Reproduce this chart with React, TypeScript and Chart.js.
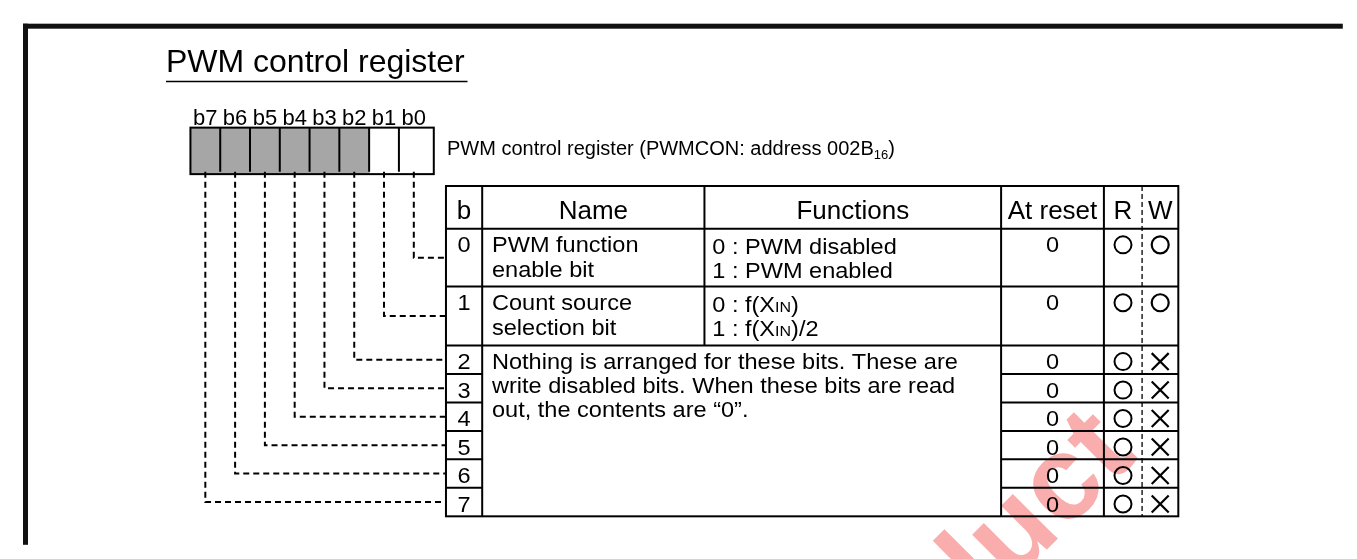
import React, { useEffect, useRef } from 'react';
import { Chart, registerables } from 'chart.js';

Chart.register(...registerables);

// ---------- content (data) ----------
const TITLE = 'PWM control register';
const REGISTER_CAPTION = 'PWM control register (PWMCON: address 002B[16])';
const BIT_LABELS = ['b7', 'b6', 'b5', 'b4', 'b3', 'b2', 'b1', 'b0'];
const BIT_ROWS = [0, 1, 2, 3, 4, 5, 6, 7];
const BIT_UNUSED = [false, false, true, true, true, true, true, true]; // by bit number
const HEADERS = ['b', 'Name', 'Functions', 'At reset', 'R', 'W'];
const NAMES = [
  ['PWM function', 'enable bit'],
  ['Count source', 'selection bit'],
];
const FUNCTIONS = [
  ['0 : PWM disabled', '1 : PWM enabled'],
  ['0 : f(X{IN})', '1 : f(X{IN})/2'],
];
const UNUSED_NOTE = [
  'Nothing is arranged for these bits. These are',
  'write disabled bits. When these bits are read',
  'out, the contents are “0”.',
];
const RESET_VALUES = ['0', '0', '0', '0', '0', '0', '0', '0'];
const READ_ACCESS = ['O', 'O', 'O', 'O', 'O', 'O', 'O', 'O'];
const WRITE_ACCESS = ['O', 'O', 'X', 'X', 'X', 'X', 'X', 'X'];
const WATERMARK = 'Product';

// ---------- layout (positions / sizes / styles) ----------
const W = 1357;
const H = 559;
const FONT = '"Liberation Sans", Arial, Helvetica, sans-serif';
const REG = { x: 180, y: 119.5, cellW: 30.42, h: 46.5, labelY: 117, labelSize: 22 };
const COLS = [441, 478, 705, 1008, 1113, 1152, 1189];
const TABLE_TOP = 181;
const HEADER_BOTTOM = 226;
const ROW_H = [61, 62, 30, 30, 30, 30, 30, 30];
const ROW_TOP: number[] = [];
{
  let y = HEADER_BOTTOM;
  for (const h of ROW_H) {
    ROW_TOP.push(y);
    y += h;
  }
}
const TABLE_BOTTOM = ROW_TOP[ROW_TOP.length - 1] + ROW_H[ROW_H.length - 1];
const SYMBOL_DY = 17;
const GRAY = '#a6a6a6';
const ROW_SIZE = 22;
const ROW_SX = 1.07;
const HEADER_SIZE = 26;

type Part = { t: string; s: number; dy: number };

function parts(str: string, size: number): Part[] {
  return str
    .split(/(\{[^}]*\}|\[[^\]]*\])/)
    .filter(Boolean)
    .map((p) => {
      if (p[0] === '{') return { t: p.slice(1, -1), s: size * 0.68, dy: 0 };
      if (p[0] === '[') return { t: p.slice(1, -1), s: size * 0.65, dy: size * 0.2 };
      return { t: p, s: size, dy: 0 };
    });
}

function drawRich(
  ctx: CanvasRenderingContext2D,
  str: string,
  x: number,
  y: number,
  size: number,
  align: 'left' | 'center' = 'left',
  sx = 1
) {
  const ps = parts(str, size);
  let total = 0;
  for (const p of ps) {
    ctx.font = `${p.s}px ${FONT}`;
    total += ctx.measureText(p.t).width;
  }
  ctx.save();
  ctx.translate(x, y);
  ctx.scale(sx, 1);
  let cx = align === 'center' ? -total / 2 : 0;
  ctx.textAlign = 'left';
  ctx.textBaseline = 'alphabetic';
  for (const p of ps) {
    ctx.font = `${p.s}px ${FONT}`;
    ctx.fillText(p.t, cx, p.dy);
    cx += ctx.measureText(p.t).width;
  }
  ctx.restore();
}

const diagramPlugin = {
  id: 'registerDiagram',
  beforeDatasetsDraw(chart: any) {
    const ctx: CanvasRenderingContext2D = chart.ctx;
    const xs = chart.scales.x;
    const ys = chart.scales.y;
    const X = (v: number) => xs.getPixelForValue(v);
    const Y = (v: number) => ys.getPixelForValue(v);

    ctx.save();
    // watermark (underneath everything)
    ctx.save();
    ctx.translate(X(1149), Y(467));
    ctx.rotate(-Math.PI / 4);
    ctx.font = `bold 120px ${FONT}`;
    ctx.fillStyle = 'rgba(240,60,60,0.42)';
    ctx.textAlign = 'right';
    ctx.textBaseline = 'alphabetic';
    ctx.fillText(WATERMARK, 0, 0);
    ctx.restore();

    ctx.fillStyle = '#000';
    ctx.strokeStyle = '#000';

    // outer frame
    ctx.fillStyle = '#111';
    ctx.fillRect(X(9), Y(10), X(W) - X(9), 5);
    ctx.fillRect(X(9), Y(10), 5, Y(H) - Y(10));
    ctx.fillStyle = '#000';

    // title
    ctx.font = `32px ${FONT}`;
    ctx.textAlign = 'left';
    ctx.textBaseline = 'alphabetic';
    ctx.fillText(TITLE, X(155), Y(61));
    ctx.lineWidth = 1.5;
    ctx.beginPath();
    ctx.moveTo(X(155), Y(71));
    ctx.lineTo(X(463), Y(71));
    ctx.stroke();

    // register cells
    ctx.lineWidth = 2;
    BIT_LABELS.forEach((lab, k) => {
      const bit = 7 - k;
      const x0 = REG.x + REG.cellW * k;
      if (BIT_UNUSED[bit]) {
        ctx.fillStyle = GRAY;
        ctx.fillRect(X(x0), Y(REG.y), REG.cellW, REG.h);
      }
      ctx.fillStyle = '#000';
      ctx.font = `${REG.labelSize}px ${FONT}`;
      ctx.textAlign = 'center';
      ctx.fillText(lab, X(x0 + REG.cellW / 2), Y(REG.labelY));
    });
    ctx.strokeRect(X(REG.x), Y(REG.y), REG.cellW * 8, REG.h);
    for (let k = 1; k < 8; k++) {
      const xx = X(REG.x + REG.cellW * k);
      ctx.beginPath();
      ctx.moveTo(xx, Y(REG.y));
      ctx.lineTo(xx, Y(REG.y + REG.h));
      ctx.stroke();
    }

    // caption
    drawRich(ctx, REGISTER_CAPTION, X(442), Y(148), 20, 'left');

    // table grid
    const line = (x1: number, y1: number, x2: number, y2: number) => {
      ctx.beginPath();
      ctx.moveTo(X(x1), Y(y1));
      ctx.lineTo(X(x2), Y(y2));
      ctx.stroke();
    };
    ctx.lineWidth = 2;
    ctx.strokeRect(X(COLS[0]), Y(TABLE_TOP), X(COLS[6]) - X(COLS[0]), Y(TABLE_BOTTOM) - Y(TABLE_TOP));
    line(COLS[0], HEADER_BOTTOM, COLS[6], HEADER_BOTTOM);
    line(COLS[0], ROW_TOP[1], COLS[6], ROW_TOP[1]);
    line(COLS[0], ROW_TOP[2], COLS[6], ROW_TOP[2]);
    for (let r = 3; r < 8; r++) {
      line(COLS[0], ROW_TOP[r], COLS[1], ROW_TOP[r]);
      line(COLS[3], ROW_TOP[r], COLS[6], ROW_TOP[r]);
    }
    line(COLS[1], TABLE_TOP, COLS[1], TABLE_BOTTOM);
    line(COLS[2], TABLE_TOP, COLS[2], ROW_TOP[2]);
    line(COLS[3], TABLE_TOP, COLS[3], TABLE_BOTTOM);
    line(COLS[4], TABLE_TOP, COLS[4], TABLE_BOTTOM);
    ctx.save();
    ctx.lineWidth = 1.3;
    ctx.setLineDash([5, 3]);
    line(COLS[5], TABLE_TOP, COLS[5], TABLE_BOTTOM);
    ctx.restore();

    // headers
    const centers = [
      (COLS[0] + COLS[1]) / 2,
      (COLS[1] + COLS[2]) / 2,
      (COLS[2] + COLS[3]) / 2,
      (COLS[3] + COLS[4]) / 2,
      (COLS[4] + COLS[5]) / 2,
      (COLS[5] + COLS[6]) / 2,
    ];
    HEADERS.forEach((h, i) => drawRich(ctx, h, X(centers[i]), Y(215.5), HEADER_SIZE, 'center'));

    // rows
    BIT_ROWS.forEach((b) => {
      const top = ROW_TOP[b];
      drawRich(ctx, String(b), X(centers[0]), Y(top + 25), ROW_SIZE, 'center', ROW_SX);
      drawRich(ctx, RESET_VALUES[b], X(centers[3]), Y(top + 25), ROW_SIZE, 'center', ROW_SX);
    });
    NAMES.forEach((lines, b) => {
      lines.forEach((l, j) => drawRich(ctx, l, X(488), Y(ROW_TOP[b] + 25 + j * 25.5), ROW_SIZE, 'left', ROW_SX));
    });
    FUNCTIONS.forEach((lines, b) => {
      lines.forEach((l, j) => drawRich(ctx, l, X(713), Y(ROW_TOP[b] + 26.5 + j * 25.5), ROW_SIZE, 'left', ROW_SX));
    });
    UNUSED_NOTE.forEach((l, j) =>
      drawRich(ctx, l, X(488), Y(ROW_TOP[2] + 24.5 + j * 25.5), ROW_SIZE, 'left', ROW_SX)
    );

    ctx.restore();
  },
};

export default function App() {
  const ref = useRef<HTMLCanvasElement | null>(null);

  useEffect(() => {
    document.body.style.margin = '0';
    const canvas = ref.current;
    if (!canvas) return;

    const rCenter = (COLS[4] + COLS[5]) / 2;
    const wCenter = (COLS[5] + COLS[6]) / 2;
    const styleFor = (a: string) => (a === 'O' ? 'circle' : 'crossRot');
    const radiusFor = (a: string) => (a === 'O' ? 8.5 : 12);

    const connectors = BIT_ROWS.map((b) => {
      const k = 7 - b;
      const cx = REG.x + REG.cellW * (k + 0.5);
      const midY = ROW_TOP[b] + ROW_H[b] / 2;
      return {
        type: 'line' as const,
        label: `b${b}`,
        data: [
          { x: cx, y: REG.y + REG.h },
          { x: cx, y: midY },
          { x: COLS[0], y: midY },
        ],
        showLine: true,
        borderColor: '#000',
        borderWidth: 2,
        borderDash: [6, 4],
        pointRadius: 0,
        fill: false,
        tension: 0,
      };
    });

    const chart = new Chart(canvas, {
      type: 'scatter',
      data: {
        datasets: [
          ...connectors,
          {
            label: 'R',
            data: BIT_ROWS.map((b) => ({ x: rCenter, y: ROW_TOP[b] + SYMBOL_DY })),
            pointStyle: READ_ACCESS.map(styleFor),
            pointRadius: READ_ACCESS.map(radiusFor),
            pointBackgroundColor: 'rgba(255,255,255,0)',
            pointBorderColor: '#000',
            pointBorderWidth: 2,
          },
          {
            label: 'W',
            data: BIT_ROWS.map((b) => ({ x: wCenter, y: ROW_TOP[b] + SYMBOL_DY })),
            pointStyle: WRITE_ACCESS.map(styleFor),
            pointRadius: WRITE_ACCESS.map(radiusFor),
            pointBackgroundColor: 'rgba(255,255,255,0)',
            pointBorderColor: '#000',
            pointBorderWidth: 2.2,
          },
        ],
      } as any,
      options: {
        animation: false,
        responsive: false,
        maintainAspectRatio: false,
        events: [],
        layout: { padding: 0 },
        plugins: { legend: { display: false }, tooltip: { enabled: false }, title: { display: false } },
        scales: {
          x: { type: 'linear', min: 0, max: W, display: false },
          y: { type: 'linear', min: 0, max: H, reverse: true, display: false },
        },
      } as any,
      plugins: [diagramPlugin],
    });

    return () => chart.destroy();
  }, []);

  return (
    <div style={{ width: W, height: H, background: '#fff' }}>
      <canvas ref={ref} width={W} height={H} style={{ display: 'block', width: W, height: H }} />
    </div>
  );
}
